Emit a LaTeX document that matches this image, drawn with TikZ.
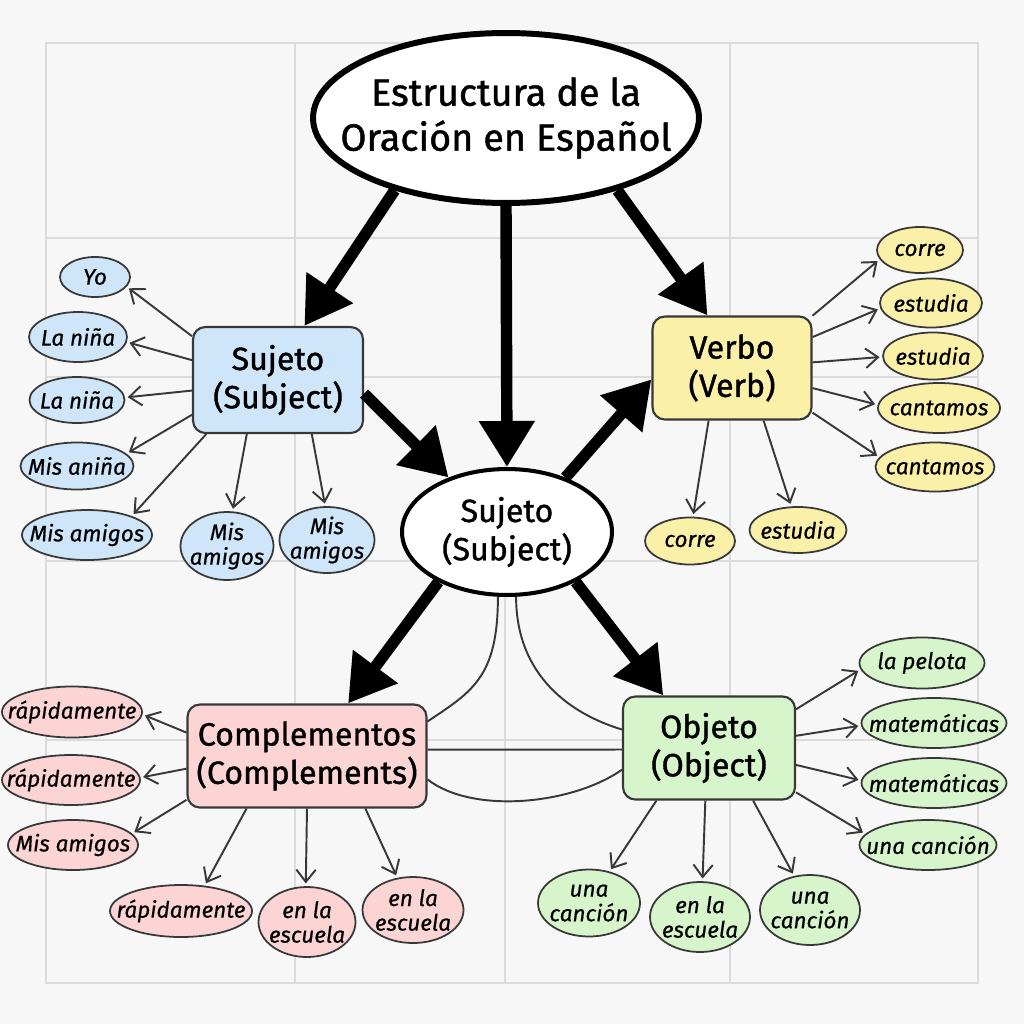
\documentclass[tikz,border=0pt]{standalone}
\usepackage{fontspec}
\setmainfont{Fira Sans}
\newfontfamily\heavyfont{Fira Sans}[FakeBold=1.2]
\newfontfamily\leaffont{Fira Sans}[FakeBold=0.6]
\usetikzlibrary{arrows.meta,shapes.geometric}
\definecolor{paper}{HTML}{F7F7F7}
\definecolor{gridc}{HTML}{DCDCDC}
\definecolor{ink}{HTML}{383838}
\definecolor{subjfill}{HTML}{CFE6FA}
\definecolor{verbfill}{HTML}{FBF0A8}
\definecolor{compfill}{HTML}{FCD4D4}
\definecolor{objfill}{HTML}{D6F5CA}

\begin{document}
\begin{tikzpicture}[x=0.02cm,y=-0.02cm,
    hub/.style={draw=ink,line width=1.2pt,rounded corners=7pt,align=center,
        font=\heavyfont\fontsize{18.3}{21.8}\selectfont},
    blob/.style={ellipse,draw=black,inner sep=-3em,align=center,
        font=\heavyfont\fontsize{18.3}{21.8}\selectfont},
    leaf/.style={ellipse,draw=ink,line width=1pt,inner sep=-3em,align=center,
        font=\leaffont\itshape\fontsize{12.8}{14}\selectfont},
    trunk/.style={line width=6.5pt,-{Triangle[length=0.92cm,width=1.06cm]}},
    twig/.style={draw=ink,line width=1.1pt,-{Straight Barb[length=7pt,width=11pt]},shorten >=1.5pt},
    link/.style={draw=ink,line width=1.1pt}]
    % Paper
        \fill[paper] (0,0) rectangle (1024,1024);
        % Grid
        \draw[gridc,line width=0.8pt] (46,43) rectangle (978,983);
        \foreach \x in {295,505,730}{
            \draw[gridc,line width=0.8pt] (\x,43) -- (\x,983);
        }
        \foreach \y in {238,377,561,740}{
            \draw[gridc,line width=0.8pt] (46,\y) -- (978,\y);
        }
    % Title
        \node[blob,fill=white,line width=3.4pt,minimum width=7.72cm,minimum height=3.4cm,
            font=\heavyfont\fontsize{21.5}{25.6}\selectfont] (title) at (506,118) {Estructura de la\\Oración en Español};
    % Centre
        \node[blob,fill=white,line width=2.3pt,minimum width=4.2cm,minimum height=2.52cm] (cen) at (507,532) {Sujeto\\(Subject)};
    % Hubs
        \node[hub,fill=subjfill,minimum width=3.4cm,minimum height=2.12cm] (suj) at (278,380) {Sujeto\\(Subject)};
        \node[hub,fill=verbfill,minimum width=3.18cm,minimum height=2.06cm] (verb) at (732,368) {Verbo\\(Verb)};
        \node[hub,fill=compfill,minimum width=4.78cm,minimum height=2.06cm] (comp) at (307,756) {Complementos\\(Complements)};
        \node[hub,fill=objfill,minimum width=3.44cm,minimum height=2.06cm] (obj) at (709,748) {Objeto\\(Object)};
    % Main arrows
        \draw[trunk] (title.213) -- (suj.64);
        \draw[trunk] (title.south) -- (cen.north);
        \draw[trunk] (title.327) -- (verb.115);
        \draw[trunk] (suj.351) -- (cen.137);
        \draw[trunk] (cen.43) -- (verb.188);
        \draw[trunk] (cen.216) -- (comp.52);
        \draw[trunk] (cen.324) -- (obj.131);
    % Links
        \draw[link] (cen.262) .. controls +(0,80) and +(45,-30) .. (comp.16);
        \draw[link] (cen.278) .. controls +(0,80) and +(-50,-15) .. (obj.168);
        \draw[link] (comp.3) -- (obj.181);
        \draw[link] (comp.349) .. controls +(45,35) and +(-50,35) .. (obj.194);
    % Leaves
        % Subject
        \foreach \i/\x/\y/\w/\h/\a/\b/\t in {
            1/95/277/70/40/153/343/Yo,
            2/78/337/98/50/167/354/La niña,
            3/77/400/95/46/187/3/La niña,
            4/77/466/113/47/202/14/Mis aniña,
            5/87/535/130/50/217/23/Mis amigos,
            6/227/546/93/68/240/81/{Mis\\amigos},
            7/327/540/95/66/302/93/{Mis\\amigos}}{
            \node[leaf,fill=subjfill,minimum width=\w*0.02cm,minimum height=\h*0.02cm] (s\i) at (\x,\y) {\t};
            \draw[twig] (suj.\a) -- (s\i.\b);
        }
        % Verb
        \foreach \i/\x/\y/\w/\h/\a/\b/\t in {
            1/920/250/86/46/33/193/corre,
            2/931/303/102/49/21/186/estudia,
            3/933/356/100/47/4/181/estudia,
            4/939/408/122/50/346/177/cantamos,
            5/935/467/119/49/331/170/cantamos,
            6/690/541/90/47/246/83/corre,
            7/798/530/97/46/301/106/estudia}{
            \node[leaf,fill=verbfill,minimum width=\w*0.02cm,minimum height=\h*0.02cm] (v\i) at (\x,\y) {\t};
            \draw[twig] (verb.\a) -- (v\i.\b);
        }
        % Complements
        \foreach \i/\x/\y/\w/\h/\a/\b/\t in {
            1/72/712/140/51/169/358/rápidamente,
            2/71/780/138/50/186/2/rápidamente,
            3/73/845/130/50/200/11/Mis amigos,
            4/181/911/142/52/221/47/rápidamente,
            5/307/922/97/70/270/92/{en la\\escuela},
            6/413/910/101/66/318/116/{en la\\escuela}}{
            \node[leaf,fill=compfill,minimum width=\w*0.02cm,minimum height=\h*0.02cm] (c\i) at (\x,\y) {\t};
            \draw[twig] (comp.\a) -- (c\i.\b);
        }
        % Object
        \foreach \i/\x/\y/\w/\h/\a/\b/\t in {
            1/922/663/125/51/24/186/la pelota,
            2/934/723/145/50/8/182/matemáticas,
            3/934/783/145/50/349/178/matemáticas,
            4/928/845/137/50/333/170/una canción,
            5/589/903/102/67/225/57/{una\\canción},
            6/700/917/100/70/266/86/{en la\\escuela},
            7/810/910/100/70/310/115/{una\\canción}}{
            \node[leaf,fill=objfill,minimum width=\w*0.02cm,minimum height=\h*0.02cm] (o\i) at (\x,\y) {\t};
            \draw[twig] (obj.\a) -- (o\i.\b);
        }
\end{tikzpicture}
\end{document}
